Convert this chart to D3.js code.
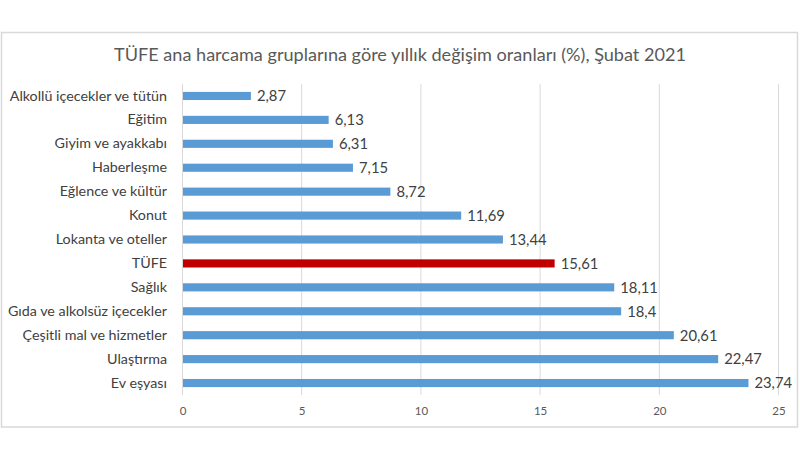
<!DOCTYPE html>
<html><head><meta charset="utf-8">
<script src="https://cdn.jsdelivr.net/npm/d3@7"></script>
<style>body{margin:0;background:#fff}svg{display:block}text{font-family:Lato,"Open Sans",sans-serif}</style>
</head><body><svg id="c" width="800" height="460"></svg>
<script>
const categories = ["Alkollü içecekler ve tütün","Eğitim","Giyim ve ayakkabı","Haberleşme","Eğlence ve kültür","Konut","Lokanta ve oteller","TÜFE","Sağlık","Gıda ve alkolsüz içecekler","Çeşitli mal ve hizmetler","Ulaştırma","Ev eşyası"];
const values = [2.87,6.13,6.31,7.15,8.72,11.69,13.44,15.61,18.11,18.4,20.61,22.47,23.74];
const valueLabels = ["2,87","6,13","6,31","7,15","8,72","11,69","13,44","15,61","18,11","18,4","20,61","22,47","23,74"];
const ticks = [0,5,10,15,20,25];
const title = "TÜFE ana harcama gruplarına göre yıllık değişim oranları (%), Şubat 2021";

const svg = d3.select("#c");
svg.append("rect").attr("x",1.5).attr("y",32.5).attr("width",796).attr("height",394.5)
  .attr("fill","#fff").attr("stroke","#d9d9d9").attr("stroke-width",1.5);
svg.append("text").attr("x",400).attr("y",61).attr("text-anchor","middle")
  .attr("font-size",18.1).attr("fill","#595959").text(title);

const x = d3.scaleLinear().domain([0,25]).range([182.5,778.5]);
const y = d3.scaleBand().domain(categories).range([84,395]).paddingInner(0.66).paddingOuter(0.33);

const g = svg.append("g");
g.selectAll("line.grid").data(ticks.slice(1)).join("line").attr("class","grid")
  .attr("x1",d=>x(d)).attr("x2",d=>x(d)).attr("y1",84).attr("y2",395)
  .attr("stroke","#d9d9d9").attr("stroke-width",1);

const xAxis = d3.axisBottom(x).tickValues(ticks).tickSize(0).tickFormat(d3.format("d"));
const ax = svg.append("g").attr("transform","translate(0,395)").call(xAxis);
ax.select(".domain").remove();
ax.selectAll("text").attr("dy",0).attr("y",20).attr("font-size",11.5).attr("fill","#595959")
  .style("font-family","Lato,'Open Sans',sans-serif");

g.selectAll("rect.bar").data(values).join("rect").attr("class","bar")
  .attr("x",x(0)).attr("y",(d,i)=>y(categories[i]))
  .attr("width",d=>x(d)-x(0)).attr("height",y.bandwidth())
  .attr("fill",(d,i)=>categories[i]==="TÜFE"?"#c00000":"#5b9bd5");

svg.append("line").attr("x1",182.5).attr("x2",182.5).attr("y1",84).attr("y2",395)
  .attr("stroke","#d9d9d9").attr("stroke-width",1);

g.selectAll("text.val").data(values).join("text").attr("class","val")
  .attr("x",d=>x(d)+6).attr("y",(d,i)=>y(categories[i])+y.bandwidth()/2)
  .attr("dy","0.36em").attr("font-size",14.8).attr("fill","#404040")
  .text((d,i)=>valueLabels[i]);

const yAxis = d3.axisLeft(y).tickSize(0).tickPadding(0);
const ay = svg.append("g").attr("transform","translate(167,0)").call(yAxis);
ay.select(".domain").remove();
ay.selectAll("text").attr("font-size",14.3).attr("fill","#404040")
  .style("font-family","Lato,'Open Sans',sans-serif");
</script></body></html>
